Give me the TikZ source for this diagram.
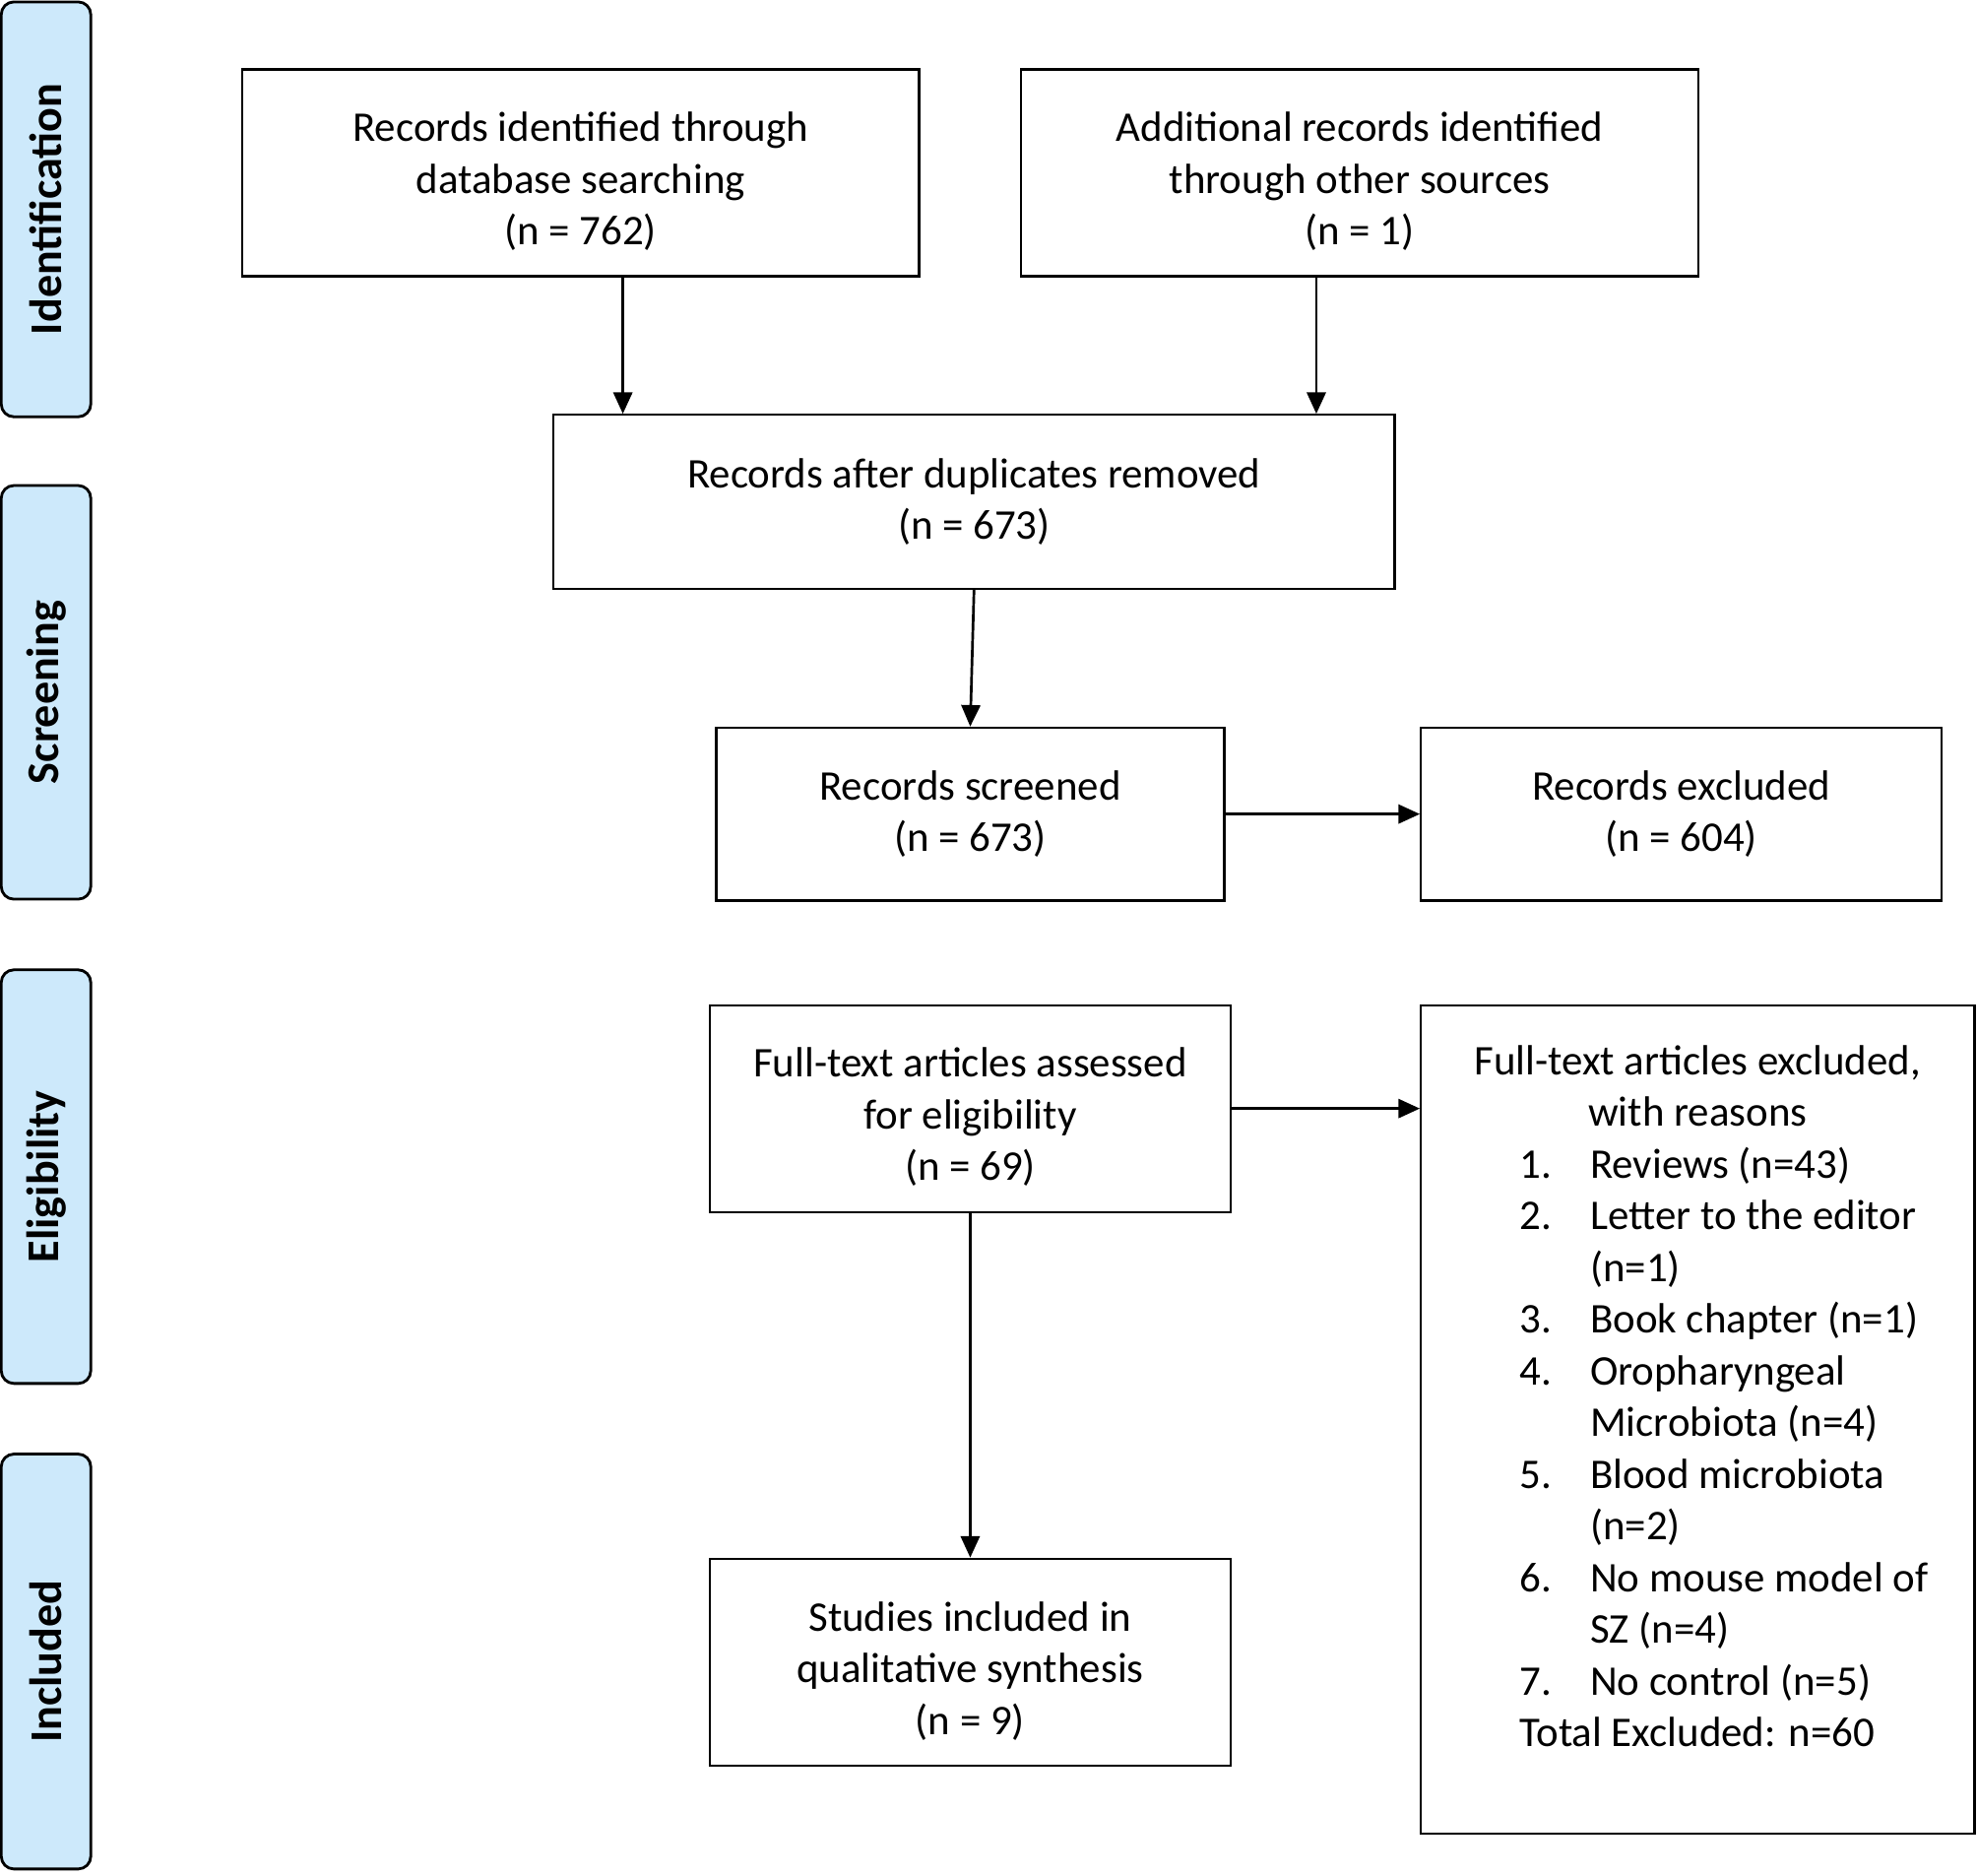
\documentclass[tikz,border=0pt]{standalone}
\usepackage{fontspec}
\setmainfont{Carlito}
\usetikzlibrary{arrows.meta}
\definecolor{pillblue}{RGB}{205,233,251}
\newcommand{\toppad}{\rule{0pt}{37pt}}
\begin{document}
\begin{tikzpicture}[x=1pt,y=-1pt,
  box/.style={draw=black, line width=1.8pt, align=center, inner sep=0pt,
    font=\fontsize{33.5}{41}\selectfont},
  pill/.style={draw=black, line width=2.2pt, fill=pillblue, rounded corners=10pt,
    rotate=90, inner sep=0pt, font=\fontsize{36}{43}\selectfont\bfseries},
  arr/.style={line width=2.1pt, -{Triangle[length=17pt,width=15pt]}},
  txt/.style={inner sep=0pt, font=\fontsize{33.5}{41}\selectfont}]
\useasboundingbox (0,0) rectangle (1568,1487);

% stage labels
\node[pill, minimum width=329pt, minimum height=71pt] (ident) at (36.5,166) {Identification};
\node[pill, minimum width=328pt, minimum height=71pt] (screen) at (36.5,549) {Screening};
\node[pill, minimum width=328pt, minimum height=71pt] (elig) at (36.5,933) {Eligibility};
\node[pill, minimum width=329pt, minimum height=71pt] (incl) at (36.5,1317.5) {Included};

% boxes
\node[box, minimum width=537pt, minimum height=164pt] (db) at (460.5,137)
  {\toppad Records identified through\\ database searching\\ (n = 762)};
\node[box, minimum width=537pt, minimum height=164pt] (other) at (1078.5,137)
  {\toppad Additional records identified\\ through other sources\\ (n = 1)};
\node[box, minimum width=667pt, minimum height=138pt] (dup) at (772.5,398)
  {Records after duplicates removed\\ (n = 673)};
\node[box, minimum width=403pt, minimum height=137pt] (screened) at (769.5,645.5)
  {Records screened\\ (n = 673)};
\node[box, minimum width=413pt, minimum height=137pt] (recexcl) at (1333.5,645.5)
  {Records excluded\\ (n = 604)};
\node[box, minimum width=413pt, minimum height=164pt] (fulltext) at (769.5,879)
  {\toppad Full-text articles assessed\\ for eligibility\\ (n = 69)};
\node[box, minimum width=439pt, minimum height=657pt] (ftexcl) at (1346.5,1125.5) {};
\node[box, minimum width=413pt, minimum height=164pt] (included) at (769.5,1318)
  {\toppad Studies included in\\ qualitative synthesis\\ (n = 9)};

% excluded box text
\node[txt, anchor=base] (fthead) at (1346.5,852)
  {\begin{tabular}[t]{@{}c@{}}Full-text articles excluded,\\ with reasons\end{tabular}};
\node[txt, anchor=base west] (ftlist) at (1205,934)
  {\begin{tabular}[t]{@{}l@{}l@{}}
  \makebox[56pt][l]{1.} & Reviews (n=43)\\
  \makebox[56pt][l]{2.} & Letter to the editor\\
   & (n=1)\\
  \makebox[56pt][l]{3.} & Book chapter (n=1)\\
  \makebox[56pt][l]{4.} & Oropharyngeal\\
   & Microbiota (n=4)\\
  \makebox[56pt][l]{5.} & Blood microbiota\\
   & (n=2)\\
  \makebox[56pt][l]{6.} & No mouse model of\\
   & SZ (n=4)\\
  \makebox[56pt][l]{7.} & No control (n=5)\\
  \multicolumn{2}{@{}l@{}}{Total Excluded: n=60}
  \end{tabular}};

% connectors
\coordinate (xa) at (494,0);
\coordinate (xb) at (1044,0);
\draw[arr] (xa |- db.south) -- (xa |- dup.north);
\draw[arr] (xb |- other.south) -- (xb |- dup.north);
\draw[arr] (dup.south) -- (screened.north);
\draw[arr] (screened.east) -- (recexcl.west);
\draw[arr] (fulltext.east) -- (fulltext.east -| ftexcl.west);
\draw[arr] (fulltext.south) -- (included.north);
\end{tikzpicture}
\end{document}
